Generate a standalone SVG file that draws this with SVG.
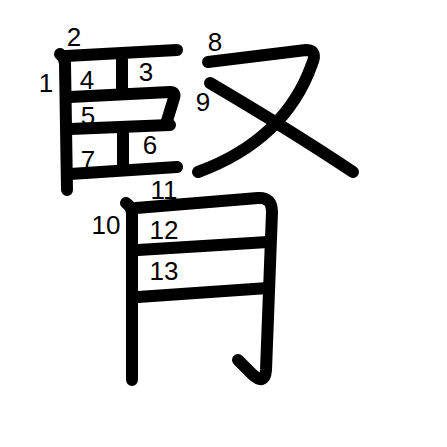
<svg xmlns="http://www.w3.org/2000/svg" width="447" height="447" viewBox="0 0 447 447">
<style>
.s{fill:none;stroke:#000;stroke-width:12;stroke-linecap:round;stroke-linejoin:round}
.n{font-family:"Liberation Sans",Arial,sans-serif;font-size:26px;fill:#000;text-anchor:middle}
</style>
<rect width="447" height="447" fill="#fff"/>
<g id="strokes">
<path id="s1" class="s" d="M60,54 Q65,58 65,64 L67,190"/>
<path id="s2" class="s" d="M66,56 L177,50"/>
<path id="s3" class="s" d="M122,60 L122,94"/>
<path id="s4" class="s" d="M70,97 L170,92 Q176,92 174,98 L166,124"/>
<path id="s5" class="s" d="M70,129 L170,125"/>
<path id="s6" class="s" d="M123,133 L123,170"/>
<path id="s7" class="s" d="M70,174 L177,167"/>
<path id="s8" class="s" d="M208,62 L306,50 Q318,50 312,64 Q285,140 198,172"/>
<path id="s9" class="s" d="M210,83 Q290,130 353,172"/>
<path id="s10" class="s" d="M126,203 Q132,207 132,214 L132,380"/>
<path id="s11" class="s" d="M136,208 L258,198 Q272,197 272,212 L266,370 Q265,386 252,374 L238,360"/>
<path id="s12" class="s" d="M138,250 L268,242"/>
<path id="s13" class="s" d="M138,297 L268,288"/>
</g>
<g id="labels">
<text class="n" x="46" y="92">1</text>
<text class="n" x="74" y="46">2</text>
<text class="n" x="146" y="81">3</text>
<text class="n" x="87" y="89">4</text>
<text class="n" x="88" y="125">5</text>
<text class="n" x="150" y="154">6</text>
<text class="n" x="88" y="169">7</text>
<text class="n" x="215" y="51">8</text>
<text class="n" x="203" y="111">9</text>
<text class="n" x="106" y="234">10</text>
<text class="n" x="164" y="199">11</text>
<text class="n" x="164" y="239">12</text>
<text class="n" x="164" y="280">13</text>
</g>
</svg>
